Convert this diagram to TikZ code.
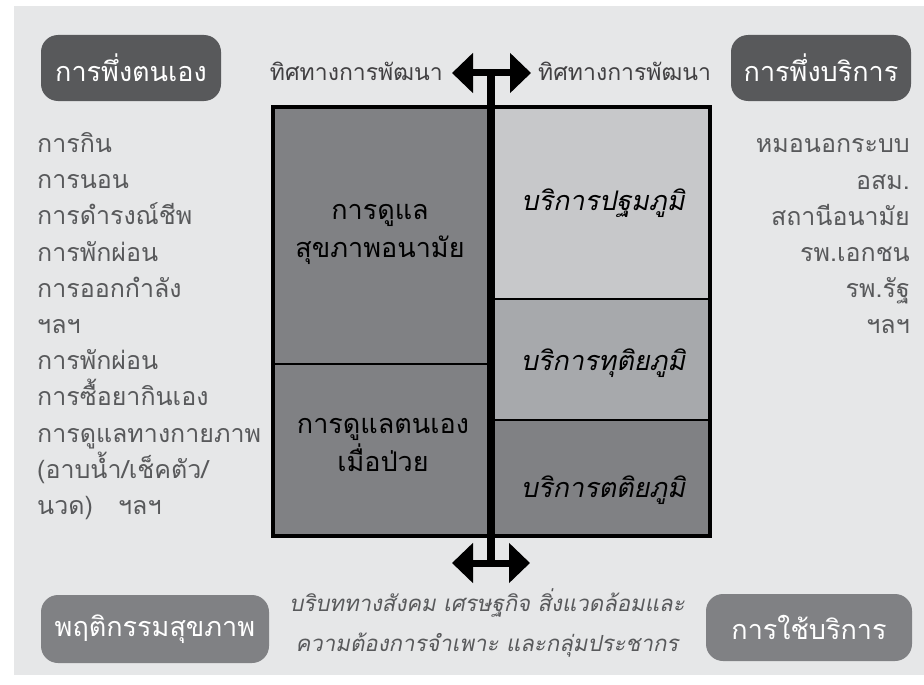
\documentclass[tikz,border=0pt]{standalone}
\usepackage{fontspec}
\usetikzlibrary{arrows.meta}
\newfontfamily\thailoop[Script=Thai]{Loma}
\newfontfamily\thailoopit[Script=Thai,FakeSlant=0.2]{Loma}
\definecolor{bgc}{HTML}{E6E7E8}
\definecolor{darkbox}{HTML}{58595B}
\definecolor{midbox}{HTML}{808184}
\definecolor{lightcell}{HTML}{C7C8CA}
\definecolor{midcell}{HTML}{A7A9AC}
\definecolor{listtxt}{HTML}{58595B}
\definecolor{labtxt}{HTML}{414042}
\tikzset{
  pill/.style={rounded corners=17pt, text=white, inner sep=0pt, font=\thailoop\fontsize{27}{30}\selectfont},
  cellbox/.style={draw=black, line width=2.5pt, inner sep=0pt},
  celltxt/.style={align=center, inner sep=0pt, font=\thailoop\fontsize{27}{38}\selectfont},
  cellit/.style={inner sep=0pt, font=\thailoopit\fontsize{27}{30}\selectfont},
  listtext/.style={inner sep=0pt, text=listtxt, font=\thailoop\fontsize{25}{36.2}\selectfont},
  dirlab/.style={inner sep=0pt, text=labtxt, font=\thailoop\fontsize{23}{26}\selectfont},
  bigarrow/.style={line width=7pt, {Triangle[length=21pt,width=39pt]}-{Triangle[length=21pt,width=39pt]}}
}
\begin{document}
\begin{tikzpicture}[x=1pt,y=-1pt]
\useasboundingbox (0,0) rectangle (924,685);
\fill[bgc] (14,6) rectangle (924,675);

% pills
\node[pill, fill=darkbox, minimum width=180pt, minimum height=66pt] (selfrel) at (131,68) {การพึ่งตนเอง};
\node[pill, fill=darkbox, minimum width=180pt, minimum height=66pt] (servrel) at (821,68) {การพึ่งบริการ};
\node[pill, fill=midbox, minimum width=228pt, minimum height=68pt] (behav) at (155,629) {พฤติกรรมสุขภาพ};
\node[pill, fill=midbox, minimum width=206pt, minimum height=67pt] (use) at (809,627.5) {การใช้บริการ};

% cells
\node[cellbox, fill=midbox, minimum width=217pt, minimum height=256pt] (care) at (382.5,236) {};
\node[cellbox, fill=midbox, minimum width=217pt, minimum height=171pt] (selfcare) at (382.5,449.5) {};
\node[cellbox, fill=lightcell, minimum width=218pt, minimum height=191pt] (prim) at (600,203.5) {};
\node[cellbox, fill=midcell, minimum width=218pt, minimum height=121pt] (sec) at (600,359.5) {};
\node[cellbox, fill=midbox, minimum width=218pt, minimum height=115pt] (tert) at (600,477.5) {};
\draw[line width=3pt] (care.north west) rectangle (tert.south east);

\node[celltxt] (caretxt) at (380,234) {การดูแล\\สุขภาพอนามัย};
\node[celltxt] (selfcaretxt) at (383,445) {การดูแลตนเอง\\เมื่อป่วย};
\node[cellit] (primtxt) at (603,203) {บริการปฐมภูมิ};
\node[cellit] (sectxt) at (603,363) {บริการทุติยภูมิ};
\node[cellit] (terttxt) at (603,490) {บริการตติยภูมิ};

% axis and arrows
\coordinate (axtop) at (491,73);
\coordinate (axbot) at (491,563);
\coordinate (tl) at (452,73);
\coordinate (tr) at (531,73);
\coordinate (bl) at (452,563);
\coordinate (br) at (530,563);
\draw[line width=8pt] (axtop) -- (axbot);
\draw[bigarrow] (tl) -- (tr);
\draw[bigarrow] (bl) -- (br);

\node[dirlab, anchor=east] (dirl) at (443,71) {ทิศทางการพัฒนา};
\node[dirlab, anchor=west] (dirr) at (538,71) {ทิศทางการพัฒนา};

% lists
\node[listtext, anchor=west, align=left] (leftlist) at (37,326) {การกิน\\การนอน\\การดำรงณ์ชีพ\\การพักผ่อน\\การออกกำลัง\\ฯลฯ\\การพักผ่อน\\การซื้อยากินเอง\\การดูแลทางกายภาพ\\(อาบน้ำ/เช็คตัว/\\นวด)\ \ \ ฯลฯ};
\node[listtext, anchor=east, align=right] (rightlist) at (910,236.5) {หมอนอกระบบ\\อสม.\\สถานีอนามัย\\รพ.เอกชน\\รพ.รัฐ\\ฯลฯ};

\node[inner sep=0pt, text=listtxt, align=center, font=\thailoopit\fontsize{22.2}{40}\selectfont] (context) at (487,623) {บริบททางสังคม เศรษฐกิจ สิ่งแวดล้อมและ\\ความต้องการจำเพาะ และกลุ่มประชากร};
\end{tikzpicture}
\end{document}
